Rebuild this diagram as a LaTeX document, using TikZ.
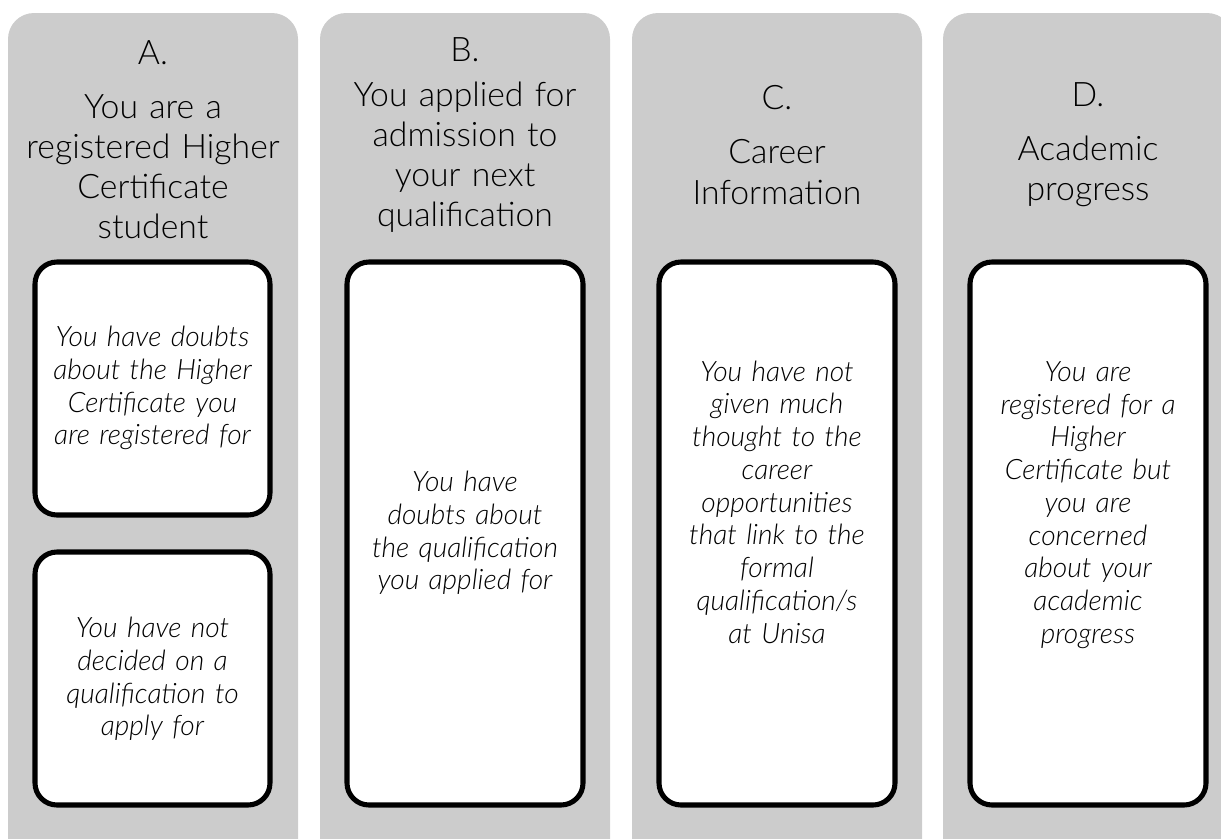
\documentclass[tikz,border=0pt]{standalone}
\usepackage{fontspec}
\setmainfont{Lato}[UprightFont=* Light, ItalicFont=* Light Italic]
\definecolor{colgray}{RGB}{204,204,204}

\begin{document}
\begin{tikzpicture}[x=0.025cm,y=-0.025cm,
  column/.style={fill=colgray, rounded corners=0.65cm},
  casebox/.style={draw=black, fill=white, line width=3.6pt, rounded corners=0.55cm},
  headtext/.style={align=center, text width=7cm, inner sep=0pt, font=\fontsize{24}{28.5}\selectfont},
  casetext/.style={align=center, text width=5.7cm, inner sep=0pt, font=\fontsize{20}{23.3}\selectfont\itshape}]
  \useasboundingbox (0,0) rectangle (1221,838);
  % columns
  \fill[column] (8,13) rectangle (298,870);
  \fill[column] (320,13) rectangle (610,870);
  \fill[column] (632,13) rectangle (922,870);
  \fill[column] (943,13) rectangle (1233,870);
  % headings
  \node[headtext] (headA) at (153,140) {A.\\[10pt]You are a\\registered Higher\\Certificate\\student};
  \node[headtext] (headB) at (465,135) {B.\\[4pt]You applied for\\admission to\\your next\\qualification};
  \node[headtext] (headC) at (777,145) {C.\\[10pt]Career\\Information};
  \node[headtext] (headD) at (1088,145) {D.\\[10pt]Academic\\progress};
  % boxes
  \draw[casebox] (35,262) rectangle (270,515);
  \node[casetext] (caseA1) at (152.5,388) {You have doubts\\about the Higher\\Certificate you\\are registered for};
  \draw[casebox] (35,552) rectangle (270,805);
  \node[casetext] (caseA2) at (152.5,679) {You have not\\decided on a\\qualification to\\apply for};
  \draw[casebox] (347,262) rectangle (583,805);
  \node[casetext] (caseB) at (465,533) {You have\\doubts about\\the qualification\\you applied for};
  \draw[casebox] (659,262) rectangle (895,805);
  \node[casetext] (caseC) at (777,502) {You have not\\given much\\thought to the\\career\\opportunities\\that link to the\\formal\\qualification/s\\at Unisa};
  \draw[casebox] (970,262) rectangle (1206,805);
  \node[casetext] (caseD) at (1088,505) {You are\\registered for a\\Higher\\Certificate but\\you are\\concerned\\about your\\academic\\progress};
\end{tikzpicture}
\end{document}
